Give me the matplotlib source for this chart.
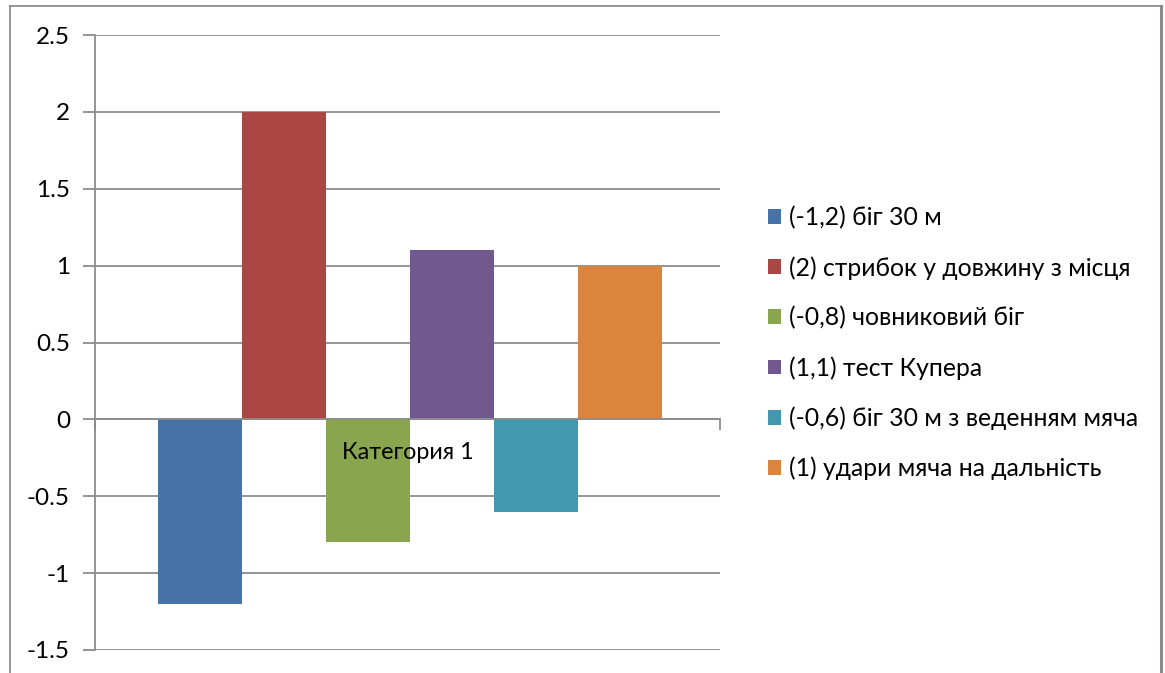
import matplotlib.pyplot as plt
from matplotlib.lines import Line2D

plt.rcParams['font.family'] = ['Lato', 'DejaVu Sans']

category = "Категория 1"
labels = [
    "(-1,2) біг 30 м",
    "(2) стрибок у довжину з місця",
    "(-0,8) човниковий біг",
    "(1,1) тест Купера",
    "(-0,6) біг 30 м з веденням мяча",
    "(1) удари мяча на дальність",
]
values = [-1.2, 2, -0.8, 1.1, -0.6, 1]
colors = ["#4572A7", "#AA4643", "#89A54E", "#71588F", "#4198AF", "#DB843D"]
yticks = [-1.5, -1, -0.5, 0, 0.5, 1, 1.5, 2, 2.5]

W, H = 1165, 673
fig = plt.figure(figsize=(W / 100, H / 100), dpi=100)
ax = fig.add_axes([95 / W, 23 / H, 625 / W, 615 / H])

grid_c = "#8C8C8C"
bar_w = 84 / 625
start = 63 / 625
for i, (lab, v, c) in enumerate(zip(labels, values, colors)):
    ax.bar(start + i * bar_w, v, width=bar_w, align='edge', color=c, label=lab, zorder=3)

ax.set_xlim(0, 1)
ax.set_ylim(-1.5, 2.5)
ax.set_yticks(yticks)
ax.set_yticklabels([f"{t:g}" for t in yticks], fontsize=17.5)
for t in yticks:
    ax.axhline(t, color=grid_c, lw=1.3, zorder=1)

for side in ['top', 'right']:
    ax.spines[side].set_visible(False)
ax.spines['left'].set_color(grid_c)
ax.spines['left'].set_linewidth(1.3)
ax.spines['bottom'].set_position(('data', 0))
ax.spines['bottom'].set_color(grid_c)
ax.spines['bottom'].set_linewidth(1.3)
ax.spines['bottom'].set_zorder(4)
ax.set_xticks([0, 1])
ax.set_xticklabels([])
ax.tick_params(axis='x', direction='out', length=8, color=grid_c, width=1.3)
ax.tick_params(axis='y', direction='out', length=9, color=grid_c, width=1.3, pad=9)

ax.text(0.5, -0.215, category, ha='center', va='center', fontsize=16.8, zorder=5)

ax.legend(loc='center left', bbox_to_anchor=(768 / W, 0.49), bbox_transform=fig.transFigure,
          frameon=False, fontsize=17.8, handlelength=0.54, handleheight=0.54,
          handletextpad=0.3, labelspacing=1.08, borderpad=0, borderaxespad=0)

# chart border
border = "#8C8C8C"
fig.add_artist(Line2D([10 / W, 10 / W], [0, 1 - 6 / H], transform=fig.transFigure, color=border, lw=1.3))
fig.add_artist(Line2D([10 / W, 1161 / W], [1 - 6 / H, 1 - 6 / H], transform=fig.transFigure, color=border, lw=1.3))
fig.add_artist(Line2D([1161 / W, 1161 / W], [0, 1 - 6 / H], transform=fig.transFigure, color=border, lw=2.2))

fig.savefig("out.png", dpi=100)
